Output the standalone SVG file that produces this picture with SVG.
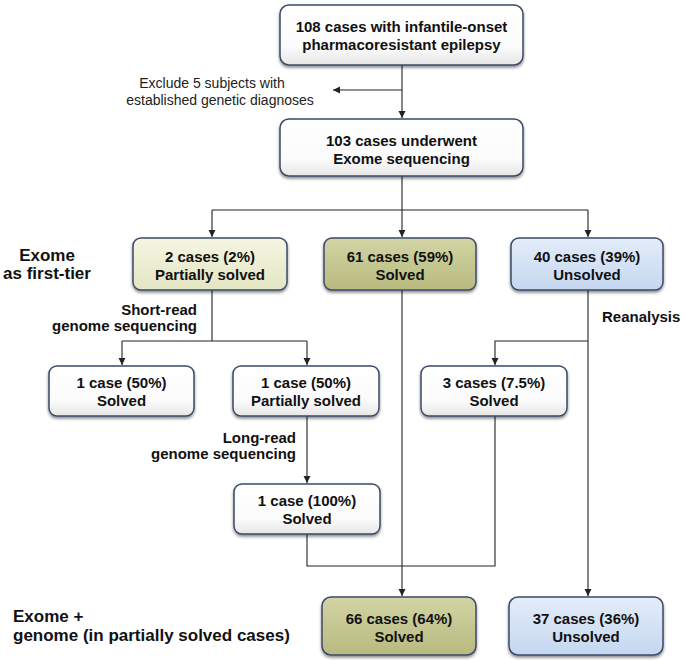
<svg xmlns="http://www.w3.org/2000/svg" width="685" height="660" viewBox="0 0 685 660">
<style>
.box{stroke:#3b4a68;stroke-width:1.5;filter:url(#sh)}
.w{fill:url(#gW)}
.p{fill:url(#gP)}
.s{fill:url(#gS)}
.u{fill:url(#gU)}
.bt{font-family:"Liberation Sans",Arial,sans-serif;font-weight:bold;font-size:15px;fill:#111;text-anchor:middle}
.lb{font-family:"Liberation Sans",Arial,sans-serif;font-weight:bold;font-size:15px;fill:#111}
.big{font-family:"Liberation Sans",Arial,sans-serif;font-weight:bold;font-size:17px;fill:#111}
.rg{font-family:"Liberation Sans",Arial,sans-serif;font-size:14px;fill:#222;text-anchor:middle}
.c{fill:none;stroke:#222;stroke-width:1.1}
</style>
<defs>
<filter id="sh" x="-10%" y="-10%" width="120%" height="130%">
<feDropShadow dx="0" dy="2" stdDeviation="1.5" flood-color="#000" flood-opacity="0.45"/>
</filter>
<linearGradient id="gW" x1="0" y1="0" x2="0" y2="1"><stop offset="0" stop-color="#ffffff"/><stop offset="0.7" stop-color="#fbfbfb"/><stop offset="1" stop-color="#e6e6e6"/></linearGradient>
<linearGradient id="gP" x1="0" y1="0" x2="0" y2="1"><stop offset="0" stop-color="#f5f6e2"/><stop offset="1" stop-color="#e3e5c2"/></linearGradient>
<linearGradient id="gS" x1="0" y1="0" x2="0" y2="1"><stop offset="0" stop-color="#d2d4a4"/><stop offset="1" stop-color="#b8ba80"/></linearGradient>
<linearGradient id="gU" x1="0" y1="0" x2="0" y2="1"><stop offset="0" stop-color="#e4edf9"/><stop offset="1" stop-color="#c4d7f0"/></linearGradient>
<marker id="ar" markerWidth="8" markerHeight="8" refX="7" refY="4" orient="auto" markerUnits="userSpaceOnUse">
<path d="M0,0.5 L7,4 L0,7.5 Z" fill="#222"/>
</marker>
</defs>

<g id="connectors">
<path class="c" d="M402,65 V118" marker-end="url(#ar)"/>
<path class="c" d="M402,90 H333" marker-end="url(#ar)"/>
<path class="c" d="M402,176 V210 M212,210 H588"/>
<path class="c" d="M212,210 V237" marker-end="url(#ar)"/>
<path class="c" d="M402,210 V237" marker-end="url(#ar)"/>
<path class="c" d="M588,210 V237" marker-end="url(#ar)"/>
<path class="c" d="M212,290 V341 M122,341 H307"/>
<path class="c" d="M122,341 V365" marker-end="url(#ar)"/>
<path class="c" d="M307,341 V365" marker-end="url(#ar)"/>
<path class="c" d="M307,416 V483" marker-end="url(#ar)"/>
<path class="c" d="M402,290 V596" marker-end="url(#ar)"/>
<path class="c" d="M588,290 V596" marker-end="url(#ar)"/>
<path class="c" d="M588,341 H495 V365" marker-end="url(#ar)"/>
<path class="c" d="M307,534 V566 H495 V416"/>
</g>

<g id="exclude-label">
<text class="rg" x="212" y="88">Exclude 5 subjects with</text>
<text class="rg" x="220" y="105">established genetic diagnoses</text>
</g>
<g id="label-exome-first">
<text class="big" x="47" y="261" text-anchor="middle">Exome</text>
<text class="big" x="47" y="279" text-anchor="middle">as first-tier</text>
</g>
<g id="label-exome-genome">
<text class="big" x="13" y="622">Exome +</text>
<text class="big" x="13" y="641">genome (in partially solved cases)</text>
</g>
<g id="label-short-read">
<text class="lb" x="197" y="315" text-anchor="end">Short-read</text>
<text class="lb" x="197" y="331" text-anchor="end">genome sequencing</text>
</g>
<g id="label-long-read">
<text class="lb" x="296" y="443" text-anchor="end">Long-read</text>
<text class="lb" x="296" y="459" text-anchor="end">genome sequencing</text>
</g>
<g id="label-reanalysis">
<text class="lb" x="602" y="322">Reanalysis</text>
</g>

<g id="n108">
<rect class="box w" x="280" y="5" width="243" height="60" rx="9"/>
<text class="bt" x="401.5" y="32">108 cases with infantile-onset</text>
<text class="bt" x="401.5" y="50">pharmacoresistant epilepsy</text>
</g>
<g id="n103">
<rect class="box w" x="280" y="119" width="243" height="57" rx="9"/>
<text class="bt" x="401.5" y="146">103 cases underwent</text>
<text class="bt" x="401.5" y="164">Exome sequencing</text>
</g>
<g id="n2partial">
<rect class="box p" x="133" y="238" width="154" height="52" rx="8"/>
<text class="bt" x="210" y="262">2 cases (2%)</text>
<text class="bt" x="210" y="280">Partially solved</text>
</g>
<g id="n61solved">
<rect class="box s" x="324" y="238" width="152" height="52" rx="8"/>
<text class="bt" x="400" y="262">61 cases (59%)</text>
<text class="bt" x="400" y="280">Solved</text>
</g>
<g id="n40unsolved">
<rect class="box u" x="511" y="238" width="152" height="52" rx="8"/>
<text class="bt" x="587" y="262">40 cases (39%)</text>
<text class="bt" x="587" y="280">Unsolved</text>
</g>
<g id="n1solved">
<rect class="box w" x="49" y="366" width="145" height="50" rx="8"/>
<text class="bt" x="121.5" y="388">1 case (50%)</text>
<text class="bt" x="121.5" y="406">Solved</text>
</g>
<g id="n1partial">
<rect class="box w" x="233" y="366" width="146" height="50" rx="8"/>
<text class="bt" x="306" y="388">1 case (50%)</text>
<text class="bt" x="306" y="406">Partially solved</text>
</g>
<g id="n3solved">
<rect class="box w" x="421" y="366" width="146" height="50" rx="8"/>
<text class="bt" x="494" y="388">3 cases (7.5%)</text>
<text class="bt" x="494" y="406">Solved</text>
</g>
<g id="n1longsolved">
<rect class="box w" x="234" y="484" width="146" height="50" rx="8"/>
<text class="bt" x="307" y="506">1 case (100%)</text>
<text class="bt" x="307" y="524">Solved</text>
</g>
<g id="n66solved">
<rect class="box s" x="322" y="597" width="154" height="58" rx="9"/>
<text class="bt" x="399" y="624">66 cases (64%)</text>
<text class="bt" x="399" y="642">Solved</text>
</g>
<g id="n37unsolved">
<rect class="box u" x="509" y="597" width="154" height="58" rx="9"/>
<text class="bt" x="586" y="624">37 cases (36%)</text>
<text class="bt" x="586" y="642">Unsolved</text>
</g>
</svg>
